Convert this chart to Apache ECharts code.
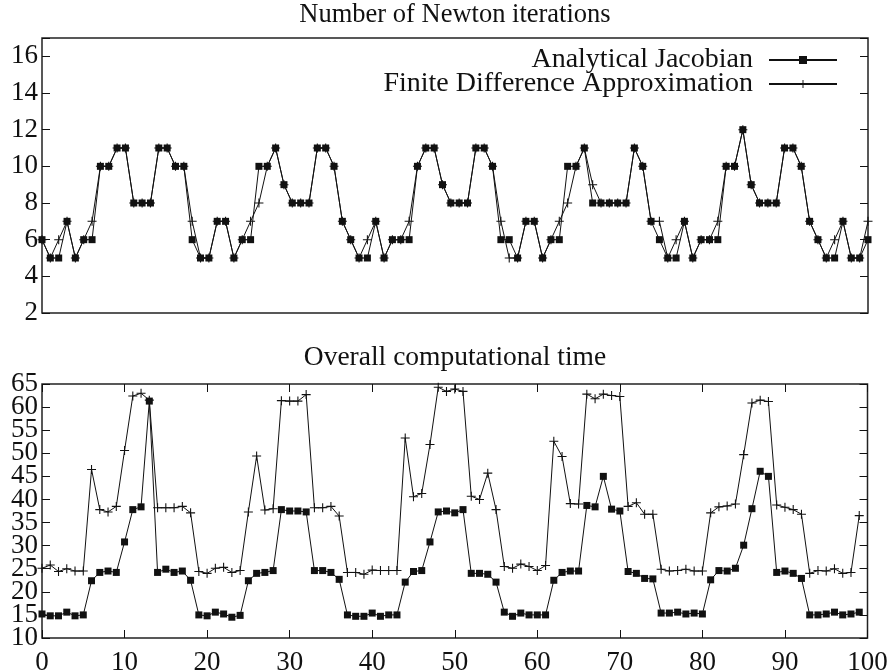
<!DOCTYPE html>
<html>
<head>
<meta charset="utf-8">
<script src="https://cdn.jsdelivr.net/npm/echarts@6/dist/echarts.min.js"></script>
<style>
  html, body { margin: 0; padding: 0; background: #fff; }
  #chart { width: 893px; height: 672px; }
</style>
</head>
<body>
<div id="chart"></div>
<script>
// Newton iteration counts per step (steps 0..99)
const iterAnalytical = [
  6, 5, 5, 7, 5, 6, 6, 10, 10, 11,
  11, 8, 8, 8, 11, 11, 10, 10, 6, 5,
  5, 7, 7, 5, 6, 6, 10, 10, 11, 9,
  8, 8, 8, 11, 11, 10, 7, 6, 5, 5,
  7, 5, 6, 6, 6, 10, 11, 11, 9, 8,
  8, 8, 11, 11, 10, 6, 6, 5, 7, 7,
  5, 6, 6, 10, 10, 11, 8, 8, 8, 8,
  8, 11, 10, 7, 6, 5, 5, 7, 5, 6,
  6, 6, 10, 10, 12, 9, 8, 8, 8, 11,
  11, 10, 7, 6, 5, 5, 7, 5, 5, 6
];
const iterFiniteDiff = [
  6, 5, 6, 7, 5, 6, 7, 10, 10, 11,
  11, 8, 8, 8, 11, 11, 10, 10, 7, 5,
  5, 7, 7, 5, 6, 7, 8, 10, 11, 9,
  8, 8, 8, 11, 11, 10, 7, 6, 5, 6,
  7, 5, 6, 6, 7, 10, 11, 11, 9, 8,
  8, 8, 11, 11, 10, 7, 5, 5, 7, 7,
  5, 6, 7, 8, 10, 11, 9, 8, 8, 8,
  8, 11, 10, 7, 7, 5, 6, 7, 5, 6,
  6, 7, 10, 10, 12, 9, 8, 8, 8, 11,
  11, 10, 7, 6, 5, 6, 7, 5, 5, 7
];

// Overall computational time per step (steps 0..99)
const timeAnalytical = [
  15.2, 14.8, 14.8, 15.6, 14.8, 15.0, 22.4, 24.2, 24.5, 24.2,
  30.8, 37.8, 38.4, 61.3, 24.2, 24.9, 24.2, 24.5, 22.5, 15.0,
  14.8, 15.6, 15.2, 14.5, 14.9, 22.4, 24.0, 24.2, 24.6, 37.8,
  37.5, 37.5, 37.3, 24.6, 24.6, 24.2, 22.7, 15.0, 14.7, 14.7,
  15.4, 14.7, 15.0, 15.0, 22.1, 24.4, 24.6, 30.8, 37.3, 37.5,
  37.1, 37.8, 24.0, 24.0, 23.8, 22.1, 15.6, 14.7, 15.4, 15.0,
  15.0, 15.0, 22.5, 24.2, 24.5, 24.5, 38.7, 38.4, 45.0, 37.9,
  37.5, 24.4, 24.0, 22.9, 22.8, 15.4, 15.4, 15.6, 15.2, 15.4,
  15.2, 22.6, 24.6, 24.5, 25.1, 30.1, 38.0, 46.1, 45.0, 24.2,
  24.5, 24.0, 22.9, 15.0, 15.0, 15.2, 15.6, 15.0, 15.2, 15.6
];
const timeFiniteDiff = [
  25.1, 25.8, 24.4, 25.0, 24.5, 24.5, 46.5, 37.8, 37.3, 38.5,
  50.6, 62.4, 63.0, 61.5, 38.2, 38.2, 38.2, 38.5, 37.1, 24.4,
  24.0, 25.1, 25.3, 24.2, 24.6, 37.3, 49.4, 37.7, 38.0, 61.4,
  61.3, 61.3, 62.7, 38.2, 38.2, 38.5, 36.4, 24.2, 24.2, 23.8,
  24.7, 24.6, 24.6, 24.6, 53.3, 40.6, 41.3, 51.9, 64.3, 63.4,
  63.9, 63.4, 40.7, 40.0, 45.7, 37.8, 25.5, 25.1, 26.0, 25.5,
  24.6, 25.7, 52.6, 49.3, 39.1, 39.0, 62.8, 61.8, 62.8, 62.5,
  62.3, 38.5, 39.3, 36.8, 36.8, 24.9, 24.5, 24.6, 24.9, 24.5,
  24.5, 37.1, 38.4, 38.6, 39.0, 49.7, 60.9, 61.5, 61.2, 38.8,
  38.3, 37.8, 36.8, 24.0, 24.6, 24.5, 25.0, 24.0, 24.2, 36.5
];

// Tick labels
const iterTicks = [2, 4, 6, 8, 10, 12, 14, 16];
const timeTicksEven = [10, 20, 30, 40, 50, 60];
const timeTicksOdd = [15, 25, 35, 45, 55, 65];

const seriesNames = ['Analytical Jacobian', 'Finite Difference Approximation'];
const panelTitles = ['Number of Newton iterations', 'Overall computational time'];

const FONT = '"Liberation Serif", "DejaVu Serif", serif';
const INK = '#111';
const PLUS = 'path://M-0.12,-1H0.12V-0.12H1V0.12H0.12V1H-0.12V0.12H-1V-0.12H-0.12Z';

const pairs = arr => arr.map((v, i) => [i, v]);

const chart = echarts.init(document.getElementById('chart'), null, { renderer: 'canvas' });

const tickLabel = { fontFamily: FONT, fontSize: 27, color: INK };
const tickMark = { show: true, inside: true, length: 8, lineStyle: { color: INK, width: 1 } };
const noLine = { show: false };

function yAxis(grid, min, max, interval, position, extra) {
  return Object.assign({
    type: 'value', gridIndex: grid, min, max, interval, position,
    splitLine: noLine, axisLine: noLine,
    axisTick: tickMark, axisLabel: { show: false }
  }, extra);
}

const titleStyle = { fontFamily: FONT, fontSize: 26.5, fontWeight: 'normal', color: INK };
const legendText = { fontFamily: FONT, fontSize: 28, color: INK, padding: [0, 11, 0, 0] };

// fixed plot frames; labels may sit right at the canvas edge
const frame = {
  show: true, borderColor: '#222', borderWidth: 1.5, backgroundColor: 'transparent',
  outerBoundsMode: 'none', containLabel: false
};

const option = {
  animation: false,
  backgroundColor: '#fff',
  title: [
    { text: panelTitles[0], left: 455, textAlign: 'center', top: 2, padding: 0, textStyle: titleStyle },
    { text: panelTitles[1], left: 455, textAlign: 'center', top: 344, padding: 0,
      textStyle: Object.assign({}, titleStyle, { fontSize: 27.5 }) }
  ],
  legend: [
    { data: [seriesNames[0]], orient: 'horizontal', align: 'right', right: 55, top: 46,
      padding: 0, itemWidth: 68, itemHeight: 10, textStyle: legendText },
    { data: [seriesNames[1]], orient: 'horizontal', align: 'right', right: 55, top: 70,
      padding: 0, itemWidth: 68, itemHeight: 10, textStyle: legendText }
  ],
  grid: [
    Object.assign({ left: 42, right: 25, top: 38, height: 275 }, frame),
    Object.assign({ left: 42, right: 25.5, top: 384, height: 254 }, frame)
  ],
  xAxis: [
    { type: 'value', gridIndex: 0, min: 0, max: 99,
      axisLine: noLine, axisTick: { show: false }, axisLabel: { show: false }, splitLine: noLine },
    { type: 'value', gridIndex: 1, min: 0, max: 100, interval: 10, position: 'bottom',
      axisLine: noLine, splitLine: noLine, axisTick: tickMark,
      axisLabel: { show: true, margin: 11, ...tickLabel } },
    { type: 'value', gridIndex: 1, min: 0, max: 100, interval: 10, position: 'top',
      axisLine: noLine, splitLine: noLine, axisTick: tickMark, axisLabel: { show: false } }
  ],
  yAxis: [
    // upper panel: labelled left axis and mirrored right ticks
    yAxis(0, 2, 17, 2, 'left', {
      axisLabel: { show: true, margin: 4, customValues: iterTicks, ...tickLabel }
    }),
    yAxis(0, 2, 17, 2, 'right'),
    // lower panel: labels split over two coincident axes so none are culled
    yAxis(1, 10, 65, 5, 'left', {
      axisLabel: { show: true, margin: 4, customValues: timeTicksEven, ...tickLabel }
    }),
    yAxis(1, 10, 65, 5, 'left', {
      axisTick: { show: false },
      axisLabel: { show: true, margin: 4, customValues: timeTicksOdd, ...tickLabel }
    }),
    yAxis(1, 10, 65, 5, 'right')
  ],
  series: [
    { name: seriesNames[0], type: 'line', xAxisIndex: 0, yAxisIndex: 0,
      data: pairs(iterAnalytical), symbol: 'rect', symbolSize: 7, z: 3,
      lineStyle: { color: INK, width: 1 }, itemStyle: { color: INK } },
    { name: seriesNames[1], type: 'line', xAxisIndex: 0, yAxisIndex: 0,
      data: pairs(iterFiniteDiff), symbol: PLUS, symbolSize: 9, z: 2,
      lineStyle: { color: INK, width: 1 }, itemStyle: { color: INK } },
    { name: seriesNames[0], type: 'line', xAxisIndex: 1, yAxisIndex: 2,
      data: pairs(timeAnalytical), symbol: 'rect', symbolSize: 7, z: 3,
      lineStyle: { color: INK, width: 1 }, itemStyle: { color: INK } },
    { name: seriesNames[1], type: 'line', xAxisIndex: 1, yAxisIndex: 2,
      data: pairs(timeFiniteDiff), symbol: PLUS, symbolSize: 9, z: 2,
      lineStyle: { color: INK, width: 1 }, itemStyle: { color: INK } }
  ]
};

chart.setOption(option);
</script>
</body>
</html>
